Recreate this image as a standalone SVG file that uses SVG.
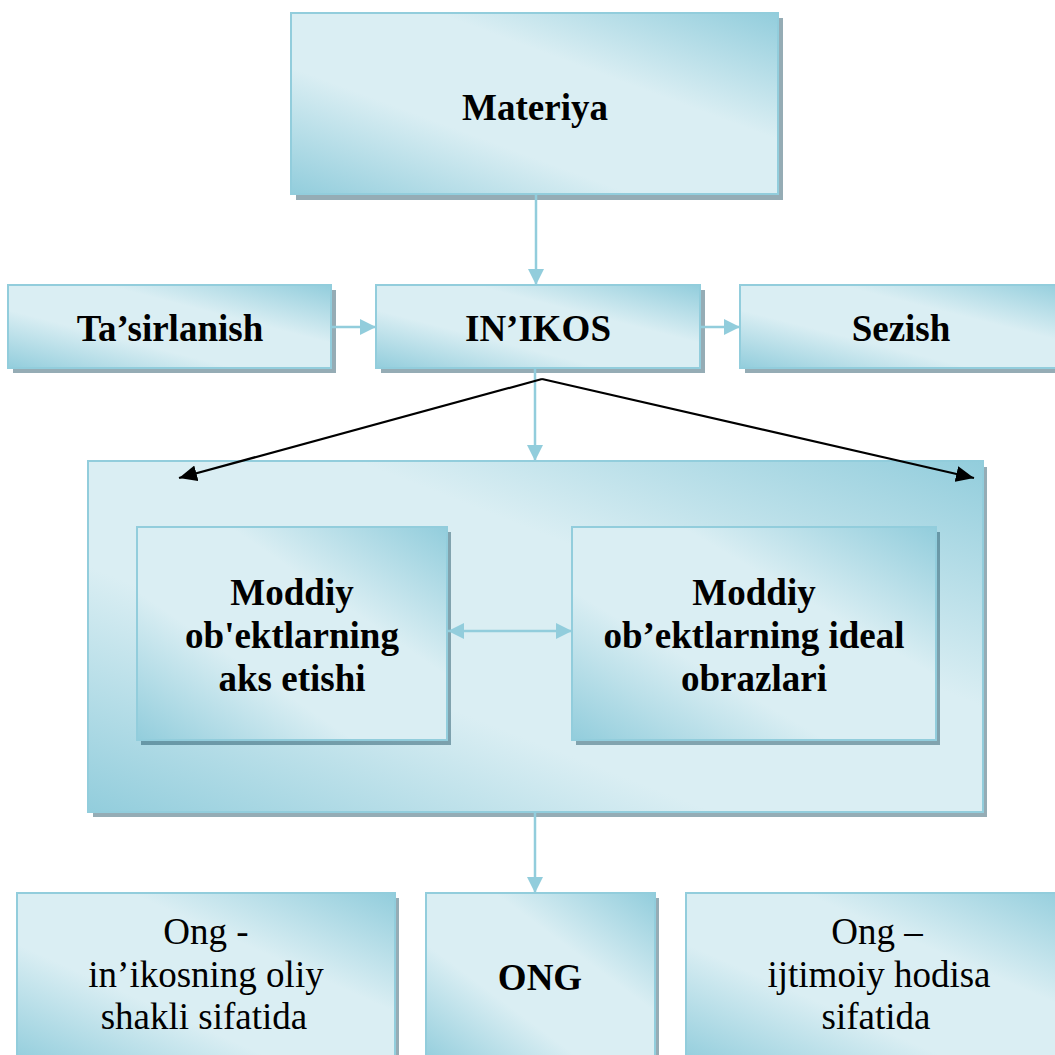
<svg xmlns="http://www.w3.org/2000/svg" width="1055" height="1055" viewBox="0 0 1055 1055">
<style>
.box{stroke:#92cddc;stroke-width:2;fill:url(#g)}
.sh{fill:rgb(20,70,90);fill-opacity:0.45}
.t{font-family:"Liberation Serif","Times New Roman",serif;font-size:37px;fill:#000;text-anchor:middle}
.b{font-weight:bold}
.c{stroke:#92cddc;stroke-width:2.5;fill:none}
.k{stroke:#000;stroke-width:2.2;fill:none}
</style>
<defs>
<linearGradient id="g" x1="0" y1="1" x2="1" y2="0">
<stop offset="0" stop-color="#92cddc"/>
<stop offset="0.35" stop-color="#daeef3"/>
<stop offset="0.65" stop-color="#daeef3"/>
<stop offset="1" stop-color="#92cddc"/>
</linearGradient>
<marker id="ab" viewBox="0 0 16 16" refX="16" refY="8" markerWidth="16" markerHeight="16" markerUnits="userSpaceOnUse" orient="auto-start-reverse">
<path d="M0,0 L16,8 L0,16 Z" fill="#92cddc"/>
</marker>
<marker id="ak" viewBox="0 0 18 16" refX="18" refY="8" markerWidth="18" markerHeight="16" markerUnits="userSpaceOnUse" orient="auto">
<path d="M0,0 L18,8 L0,16 Z" fill="#000"/>
</marker>
</defs>
<rect width="1055" height="1055" fill="#fff"/>

<g id="materiya">
<rect class="sh" x="296" y="18" width="487" height="182"/>
<rect class="box" x="291" y="13" width="487" height="181"/>
<text class="t b" x="535" y="120">Materiya</text>
</g>

<g id="tasirlanish">
<rect class="sh" x="13" y="290" width="323" height="83"/>
<rect class="box" x="8" y="285" width="323" height="83"/>
<text class="t b" x="170" y="341">Ta’sirlanish</text>
</g>

<g id="inikos">
<rect class="sh" x="381" y="290" width="324" height="83"/>
<rect class="box" x="376" y="285" width="324" height="83"/>
<text class="t b" x="538" y="341">IN’IKOS</text>
</g>

<g id="sezish">
<rect class="sh" x="745" y="290" width="330" height="83"/>
<rect class="box" x="740" y="285" width="330" height="83"/>
<text class="t b" x="901" y="341">Sezish</text>
</g>

<g id="container">
<rect class="sh" x="93" y="467" width="894" height="350"/>
<rect class="box" x="88" y="461" width="895" height="351"/>
</g>

<g id="moddiy1">
<rect class="sh" x="141" y="532" width="310" height="213"/>
<rect class="box" x="137" y="527" width="310" height="213"/>
<text class="t b" x="292" y="605">Moddiy</text>
<text class="t b" x="292" y="648">ob'ektlarning</text>
<text class="t b" x="292" y="691">aks etishi</text>
</g>

<g id="moddiy2">
<rect class="sh" x="576" y="532" width="364" height="213"/>
<rect class="box" x="572" y="527" width="364" height="213"/>
<text class="t b" x="754" y="605">Moddiy</text>
<text class="t b" x="754" y="648">ob’ektlarning ideal</text>
<text class="t b" x="754" y="691">obrazlari</text>
</g>

<g id="ong1">
<rect class="sh" x="21" y="898" width="378" height="170"/>
<rect class="box" x="17" y="893" width="378" height="170"/>
<text class="t" x="206" y="944">Ong -</text>
<text class="t" x="206" y="987">in’ikosning oliy</text>
<text class="t" x="204" y="1029">shakli sifatida</text>
</g>

<g id="ong">
<rect class="sh" x="430" y="898" width="229" height="170"/>
<rect class="box" x="426" y="893" width="229" height="170"/>
<text class="t b" x="540" y="990">ONG</text>
</g>

<g id="ong2">
<rect class="sh" x="691" y="898" width="390" height="170"/>
<rect class="box" x="686" y="893" width="390" height="170"/>
<text class="t" x="877" y="944">Ong –</text>
<text class="t" x="879" y="987">ijtimoiy hodisa</text>
<text class="t" x="876" y="1029">sifatida</text>
</g>

<g id="connectors">
<line class="c" x1="536" y1="195" x2="536" y2="285" marker-end="url(#ab)"/>
<line class="c" x1="332" y1="327" x2="376" y2="327" marker-end="url(#ab)"/>
<line class="c" x1="701" y1="327" x2="740" y2="327" marker-end="url(#ab)"/>
<line class="c" x1="535" y1="369" x2="535" y2="461" marker-end="url(#ab)"/>
<line class="c" x1="448" y1="631" x2="572" y2="631" marker-start="url(#ab)" marker-end="url(#ab)"/>
<line class="c" x1="535" y1="813" x2="535" y2="893" marker-end="url(#ab)"/>
<line class="k" x1="542" y1="379" x2="179" y2="478" marker-end="url(#ak)"/>
<line class="k" x1="542" y1="379" x2="974" y2="478" marker-end="url(#ak)"/>
</g>
</svg>
